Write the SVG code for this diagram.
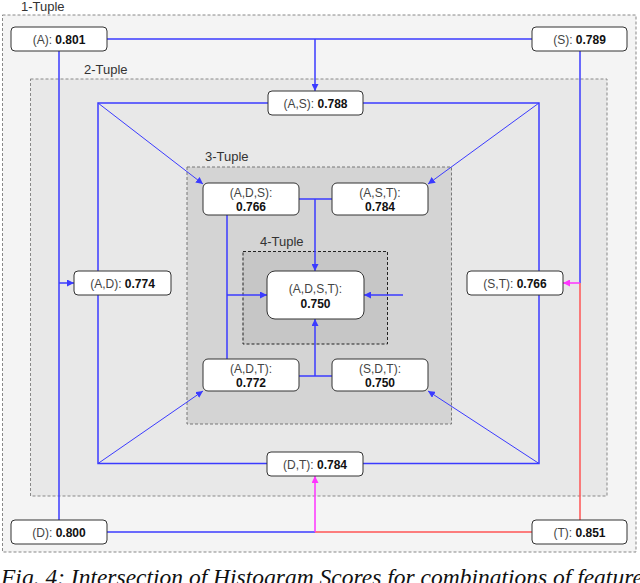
<svg xmlns="http://www.w3.org/2000/svg" width="640" height="583" viewBox="0 0 640 583">
<style>
.grp{stroke-dasharray:3,2;stroke-width:1}
.lbl{font-family:"Liberation Sans",Arial,sans-serif;font-size:13px;fill:#333}
.node rect{fill:#fff;stroke:#333;stroke-width:1}
.node text{font-family:"Liberation Sans",Arial,sans-serif;font-size:12px;fill:#444;text-anchor:middle}
.node tspan.v{font-weight:bold;fill:#111}
.b{stroke:#3b3bff;stroke-width:1.5;fill:none}
.bt{stroke:#3b3bff;stroke-width:1;fill:none}
.r{stroke:#ff5555;stroke-width:1.5;fill:none}
.m{stroke:#ff33ff;stroke-width:1.5;fill:none}
.cap{font-family:"Liberation Serif","Times New Roman",serif;font-style:italic;font-size:23.5px;fill:#111}
</style>
<defs>
<marker id="ab" viewBox="0 0 10 10" refX="10" refY="5" markerWidth="7" markerHeight="7" markerUnits="userSpaceOnUse" orient="auto"><path d="M0,0 L10,5 L0,10 z" fill="#3b3bff"/></marker>
<marker id="am" viewBox="0 0 10 10" refX="10" refY="5" markerWidth="7" markerHeight="7" markerUnits="userSpaceOnUse" orient="auto"><path d="M0,0 L10,5 L0,10 z" fill="#ff33ff"/></marker>
</defs>
<rect width="640" height="583" fill="#fff"/>
<g id="groups">
<rect class="grp" x="2.5" y="15" width="633.5" height="537" fill="#f4f4f4" stroke="#888"/>
<text class="lbl" x="21" y="11">1-Tuple</text>
<rect class="grp" x="30.5" y="79" width="576.5" height="417" fill="#e8e8e8" stroke="#888"/>
<text class="lbl" x="84" y="74">2-Tuple</text>
<rect class="grp" x="187" y="167" width="264.5" height="257" fill="#d4d4d4" stroke="#777"/>
<text class="lbl" x="205" y="161">3-Tuple</text>
<rect class="grp" x="243" y="251.5" width="144.5" height="92.5" fill="#c6c6c6" stroke="#222"/>
<text class="lbl" x="260" y="246">4-Tuple</text>
</g>
<g id="connectors">
<path class="b" d="M107,39 H532"/>
<path class="b" d="M315,39 V91" marker-end="url(#ab)"/>
<path class="b" d="M59,51 V520"/>
<path class="b" d="M59,283 H74" marker-end="url(#ab)"/>
<path class="b" d="M580,51 V283"/>
<path class="r" d="M580,283 V520"/>
<path class="m" d="M580,283 H563" marker-end="url(#am)"/>
<path class="b" d="M107,532 H315"/>
<path class="r" d="M315,532 H532"/>
<path class="m" d="M315,532 V476" marker-end="url(#am)"/>
<path class="b" d="M268,103 H98 V463.5 H267"/>
<path class="b" d="M363,103 H539 V463.5 H363"/>
<path class="bt" d="M98,103 L203,184" marker-end="url(#ab)"/>
<path class="bt" d="M539,103 L428,184" marker-end="url(#ab)"/>
<path class="bt" d="M98,463.5 L203,391" marker-end="url(#ab)"/>
<path class="bt" d="M539,463.5 L428,391" marker-end="url(#ab)"/>
<path class="b" d="M299,199 H332"/>
<path class="b" d="M315,199 V271" marker-end="url(#ab)"/>
<path class="b" d="M227,215 V359"/>
<path class="b" d="M227,295 H267" marker-end="url(#ab)"/>
<path class="b" d="M403,295 H364" marker-end="url(#ab)"/>
<path class="b" d="M299,376 H332"/>
<path class="b" d="M315,376 V319" marker-end="url(#ab)"/>
</g>
<g id="n-A" class="node"><rect x="11" y="27" width="96" height="24" rx="4"/><text x="59" y="44">(A): <tspan class="v">0.801</tspan></text></g>
<g id="n-S" class="node"><rect x="532" y="27" width="95" height="24" rx="4"/><text x="579.5" y="44">(S): <tspan class="v">0.789</tspan></text></g>
<g id="n-D" class="node"><rect x="11" y="520" width="96" height="24" rx="4"/><text x="59" y="537">(D): <tspan class="v">0.800</tspan></text></g>
<g id="n-T" class="node"><rect x="532" y="520" width="95" height="24" rx="4"/><text x="579.5" y="537">(T): <tspan class="v">0.851</tspan></text></g>
<g id="n-AS" class="node"><rect x="268" y="91" width="95" height="24" rx="4"/><text x="315.5" y="108">(A,S): <tspan class="v">0.788</tspan></text></g>
<g id="n-AD" class="node"><rect x="74" y="271" width="97" height="24" rx="4"/><text x="122.5" y="288">(A,D): <tspan class="v">0.774</tspan></text></g>
<g id="n-ST" class="node"><rect x="467" y="271" width="96" height="24" rx="4"/><text x="515" y="288">(S,T): <tspan class="v">0.766</tspan></text></g>
<g id="n-DT" class="node"><rect x="267" y="452" width="96" height="24" rx="4"/><text x="315" y="469">(D,T): <tspan class="v">0.784</tspan></text></g>
<g id="n-ADS" class="node"><rect x="203" y="183" width="96" height="32" rx="5"/><text x="251" y="197">(A,D,S):</text><text x="251" y="211"><tspan class="v">0.766</tspan></text></g>
<g id="n-AST" class="node"><rect x="332" y="183" width="96" height="32" rx="5"/><text x="380" y="197">(A,S,T):</text><text x="380" y="211"><tspan class="v">0.784</tspan></text></g>
<g id="n-ADT" class="node"><rect x="203" y="359" width="96" height="32" rx="5"/><text x="251" y="373">(A,D,T):</text><text x="251" y="387"><tspan class="v">0.772</tspan></text></g>
<g id="n-SDT" class="node"><rect x="332" y="359" width="96" height="32" rx="5"/><text x="380" y="373">(S,D,T):</text><text x="380" y="387"><tspan class="v">0.750</tspan></text></g>
<g id="n-ADST" class="node"><rect x="267" y="271" width="97" height="48" rx="8"/><text x="315.5" y="293">(A,D,S,T):</text><text x="315.5" y="308"><tspan class="v">0.750</tspan></text></g>
<text class="cap" x="1" y="585">Fig. 4: Intersection of Histogram Scores for combinations of features</text>
</svg>
